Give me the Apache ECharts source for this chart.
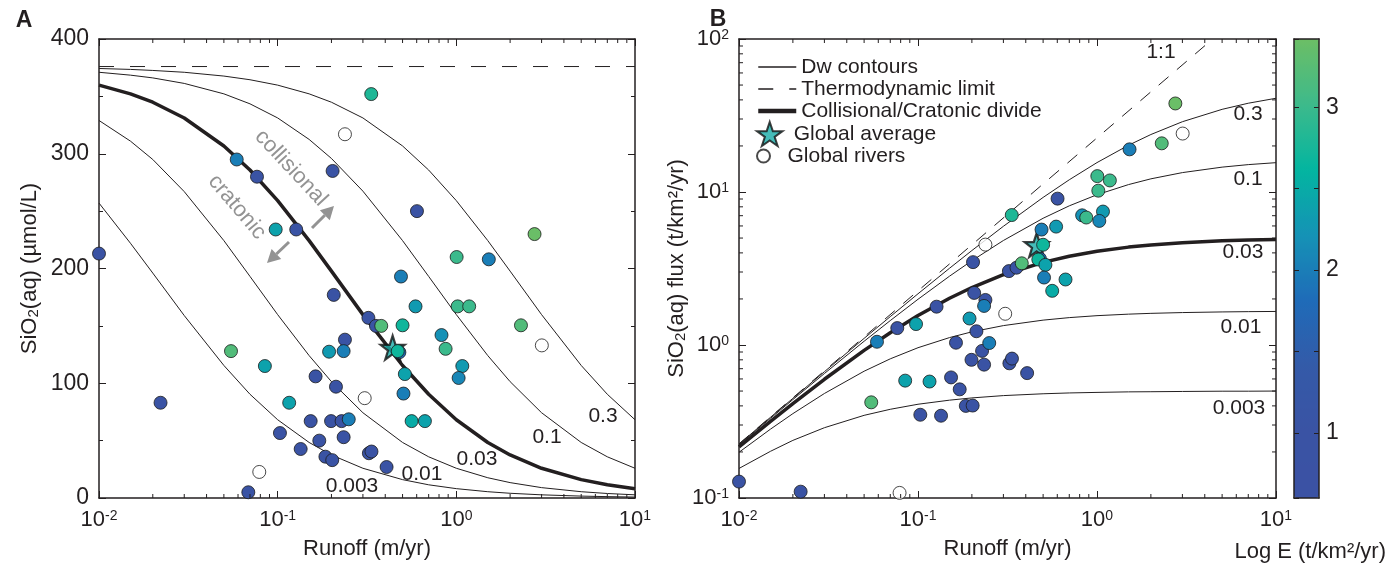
<!DOCTYPE html>
<html>
<head>
<meta charset="utf-8">
<title>Dissolved silica vs runoff</title>
<script src="https://cdn.jsdelivr.net/npm/echarts@6.0.0/dist/echarts.min.js"></script>
<style>
  html, body { margin: 0; padding: 0; background: #fff; }
  #chart { width: 1388px; height: 567px; }
</style>
</head>
<body>
<div id="chart"></div>
<script>
// runoff samples (m/yr) for the Dw model curves
const curveRunoff = [0.01, 0.015, 0.02, 0.03, 0.05, 0.07, 0.1, 0.15, 0.2, 0.3, 0.5, 0.7, 1, 1.5, 2, 3, 5, 7, 10]
// panel A, SiO2 (umol/L) along each Dw contour
const concDw003 = [257, 222, 196, 159, 115.5, 90.4, 68.2, 48.4, 37.5, 25.9, 16.0, 11.5, 8.15, 5.48, 4.12, 2.76, 1.66, 1.19, 0.83]
const concDw01 = [329, 311, 295, 267, 224.3, 193.1, 159.8, 124.1, 101.4, 74.3, 48.4, 35.9, 25.9, 17.65, 13.4, 9.04, 5.48, 3.93, 2.76]
const concDw03 = [359.8, 352.2, 344.9, 331.2, 306.8, 285.8, 259.1, 224.3, 197.7, 159.8, 115.5, 90.4, 68.2, 48.4, 37.5, 25.9, 16.0, 11.5, 8.15]
const concDw1 = [371.0, 368.5, 366.1, 361.3, 352.2, 343.5, 331.2, 312.5, 295.9, 267.4, 224.3, 193.1, 159.8, 124.1, 101.4, 74.3, 48.4, 35.9, 25.9]
const concDw3 = [374.3, 373.5, 372.6, 371.0, 367.7, 364.5, 359.8, 352.2, 344.9, 331.2, 306.8, 285.8, 259.1, 224.3, 197.7, 159.8, 115.5, 90.4, 68.2]
const thermoLimit = 376
// panel B, SiO2 flux (t/km2/yr) along each Dw contour
const fluxDw003 = [0.156, 0.202, 0.238, 0.288, 0.347, 0.380, 0.410, 0.436, 0.451, 0.467, 0.480, 0.486, 0.490, 0.494, 0.495, 0.497, 0.499, 0.499, 0.500]
const fluxDw01 = [0.199, 0.282, 0.356, 0.482, 0.674, 0.812, 0.960, 1.118, 1.219, 1.339, 1.454, 1.510, 1.555, 1.591, 1.610, 1.629, 1.645, 1.652, 1.657]
const fluxDw03 = [0.216, 0.317, 0.414, 0.597, 0.922, 1.202, 1.557, 2.021, 2.375, 2.880, 3.470, 3.804, 4.099, 4.363, 4.509, 4.664, 4.796, 4.855, 4.899]
const fluxDw1 = [0.223, 0.332, 0.440, 0.651, 1.058, 1.444, 1.990, 2.817, 3.556, 4.820, 6.736, 8.120, 9.599, 11.18, 12.19, 13.39, 14.54, 15.10, 15.55]
const fluxDw3 = [0.225, 0.337, 0.448, 0.669, 1.105, 1.533, 2.162, 3.174, 4.144, 5.969, 9.217, 12.02, 15.57, 20.21, 23.75, 28.80, 34.70, 38.04, 40.99]
const oneToOneRunoff = [0.01, 4.43]
const oneToOneFlux = [0.226, 100]

// catchments
const runoff = [0.059, 0.0766, 0.203, 0.0975, 0.127, 0.01, 0.334, 0.602, 2.74, 1.004, 1.52, 0.49, 0.206, 0.238, 0.194, 0.234, 0.0548, 0.0848, 0.163, 0.212, 0.0221, 0.116, 0.153, 0.199, 0.228, 0.25, 0.103, 0.171, 0.234, 0.1345, 0.185, 0.202, 0.0685, 0.591, 1.017, 1.18, 0.322, 0.355, 0.38, 0.50, 2.30, 0.826, 0.871, 0.48, 0.47, 0.515, 0.506, 1.08, 1.03, 0.562, 0.667, 0.324, 0.335, 0.407]
const sio2 = [295, 280, 285, 234, 234, 213, 352, 250, 230, 210, 208, 193, 177, 138, 127.5, 128, 128, 115, 106, 97, 83, 83, 67, 67, 67, 68.6, 56.6, 50, 53, 42.7, 36, 33, 5, 167, 167, 167, 157, 150, 150, 150.5, 150.5, 142, 130, 127, 128, 108, 91, 115, 104.6, 67, 67, 39, 40.5, 27]
const sio2Flux = [1.05, 1.29, 3.48, 1.37, 1.78, 0.128, 7.07, 9.05, 37.9, 12.7, 19.0, 5.68, 2.19, 1.97, 1.49, 1.80, 0.422, 0.585, 1.035, 1.23, 0.110, 0.577, 0.614, 0.80, 0.915, 1.03, 0.350, 0.513, 0.744, 0.345, 0.400, 0.402, 0.0206, 5.94, 10.2, 11.9, 3.04, 3.20, 3.42, 4.52, 20.8, 7.04, 6.81, 3.66, 3.62, 3.34, 2.76, 7.45, 6.47, 2.26, 2.68, 0.759, 0.815, 0.655]
const logE = [2.0, 1.0, 1.0, 2.4, 1.0, 1.0, 2.8, 1.0, 3.4, 3.0, 2.0, 2.0, 1.0, 1.0, 2.3, 2.0, 3.2, 2.4, 1.0, 1.0, 1.0, 2.4, 1.0, 1.0, 1.0, 2.0, 1.0, 1.0, 1.0, 1.0, 1.0, 1.0, 1.0, 2.3, 3.0, 3.0, 1.0, 1.0, 3.2, 2.7, 3.2, 2.2, 3.0, 1.8, 2.7, 2.4, 2.0, 2.3, 2.1, 2.5, 2.4, 1.0, 1.0, 1.0]

// global rivers (open circles) and global average (star)
const riverRunoff = [0.238, 3.01, 0.307, 0.0789]
const riverSio2 = [317, 133, 87, 22.7]
const riverFlux = [4.53, 24.1, 1.60, 0.108]
const avgRunoffA = [0.44]
const avgSio2 = [131]
const avgRunoffB = [0.46]
const avgFlux = [4.5]

// minor tick values on the log axes
const xMinorTicks = [0.02, 0.03, 0.04, 0.05, 0.06, 0.07, 0.08, 0.09, 0.2, 0.3, 0.4, 0.5, 0.6, 0.7, 0.8, 0.9, 2, 3, 4, 5, 6, 7, 8, 9]
const yMinorTicks = [0.2, 0.3, 0.4, 0.5, 0.6, 0.7, 0.8, 0.9, 2, 3, 4, 5, 6, 7, 8, 9, 20, 30, 40, 50, 60, 70, 80, 90]
const dwLabelsA = ['0.003', '0.01', '0.03', '0.1', '0.3']
const dwLabelsB = ['0.003', '0.01', '0.03', '0.1', '0.3']

const FONT = '"Liberation Sans", Arial, Helvetica, sans-serif'
const INK = '#231f20'
const GREY = '#939393'
const colorStops = ['#3b52a4', '#3a53a4', '#345aa8', '#1f6bb8', '#1592b6', '#03b5a0', '#3dba8b', '#6cbe65']

const pairs = (xs, ys) => xs.map((x, i) => [x, ys[i]])
const triples = (xs, ys, cs) => xs.map((x, i) => [x, ys[i], cs[i]])

function powLabel(v) {
  return '10{sup|' + Math.round(Math.log10(v)) + '}'
}

const tickOn = { show: true, inside: true, length: 7, lineStyle: { color: INK, width: 1 } }
const lineOn = { show: true, onZero: false, lineStyle: { color: INK, width: 1.5 } }
const labelOff = { show: false }
const noSplit = { show: false }
const powRich = { sup: { fontFamily: FONT, fontSize: 14, lineHeight: 14, verticalAlign: 'top', color: INK } }
const subRich = { sub: { fontFamily: FONT, fontSize: 15, lineHeight: 8, verticalAlign: 'bottom', color: INK } }

function runoffAxis(grid, bottom) {
  return {
    type: 'log', logBase: 10, min: 0.01, max: 10, gridIndex: grid,
    position: bottom ? 'bottom' : 'top',
    axisLine: lineOn, axisTick: tickOn, splitLine: noSplit,
    axisLabel: bottom
      ? { fontFamily: FONT, fontSize: 22, color: INK, margin: 11, formatter: powLabel, rich: powRich }
      : labelOff,
    name: bottom ? 'Runoff (m/yr)' : '',
    nameLocation: 'middle', nameGap: 40,
    nameTextStyle: { fontFamily: FONT, fontSize: 22, color: INK }
  }
}

function contour(name, x, y, xi, yi, width) {
  return {
    name: name, type: 'line', xAxisIndex: xi, yAxisIndex: yi,
    data: pairs(x, y), symbol: 'none', smooth: false,
    lineStyle: { color: INK, width: width }, itemStyle: { color: INK, opacity: 0 },
    silent: true, z: 1, clip: true, emphasis: { disabled: true }
  }
}

function minorTicks(xi, yi, values, dir, ref) {
  return {
    type: 'custom', xAxisIndex: xi, yAxisIndex: yi, silent: true, clip: false, z: 6,
    data: values.map(v => (dir === 'x' ? [v, ref] : [ref, v])),
    renderItem: (params, api) => {
      const cs = params.coordSys
      const p = api.coord([api.value(0), api.value(1)])
      const st = { stroke: INK, lineWidth: 1 }
      if (dir === 'x') {
        return { type: 'group', children: [
          { type: 'line', shape: { x1: p[0], y1: cs.y + cs.height, x2: p[0], y2: cs.y + cs.height - 4 }, style: st },
          { type: 'line', shape: { x1: p[0], y1: cs.y, x2: p[0], y2: cs.y + 4 }, style: st }
        ] }
      }
      return { type: 'group', children: [
        { type: 'line', shape: { x1: cs.x, y1: p[1], x2: cs.x + 4, y2: p[1] }, style: st },
        { type: 'line', shape: { x1: cs.x + cs.width, y1: p[1], x2: cs.x + cs.width - 4, y2: p[1] }, style: st }
      ] }
    }
  }
}

const STAR = 'path://M12,0 L14.9,8.6 L24,8.6 L16.6,14 L19.4,22.6 L12,17.3 L4.6,22.6 L7.4,14 L0,8.6 L9.1,8.6 Z'
const pointStyle = { borderColor: '#1c1c1c', borderWidth: 0.8, opacity: 1 }

const series = []
// panel A
series.push(contour('Dw contours', curveRunoff, concDw003, 0, 0, 1))
series.push(contour('Dw contours', curveRunoff, concDw01, 0, 0, 1))
series.push(contour('Collisional/Cratonic divide', curveRunoff, concDw03, 0, 0, 3.5))
series.push(contour('Dw contours', curveRunoff, concDw1, 0, 0, 1))
series.push(contour('Dw contours', curveRunoff, concDw3, 0, 0, 1))
const limitA = contour('Thermodynamic limit', [0.01, 10], [thermoLimit, thermoLimit], 0, 0, 1)
limitA.lineStyle.type = [15, 16]
series.push(limitA)
series.push({ name: 'Global average', type: 'scatter', xAxisIndex: 0, yAxisIndex: 0,
  data: pairs(avgRunoffA, avgSio2), symbol: STAR, symbolSize: 24, z: 2,
  itemStyle: { color: '#17aba7', borderColor: '#111', borderWidth: 2.2 } })
const idxPtsA = series.length
series.push({ name: 'Catchments', type: 'scatter', xAxisIndex: 0, yAxisIndex: 0,
  data: triples(runoff, sio2, logE), symbolSize: 13, itemStyle: pointStyle, z: 3, clip: true })
series.push({ name: 'Global rivers', type: 'scatter', xAxisIndex: 0, yAxisIndex: 0,
  data: pairs(riverRunoff, riverSio2), symbolSize: 13, z: 3,
  itemStyle: { color: '#fff', borderColor: '#1c1c1c', borderWidth: 1 } })
// panel B
series.push(contour('Dw contours', curveRunoff, fluxDw003, 2, 2, 1))
series.push(contour('Dw contours', curveRunoff, fluxDw01, 2, 2, 1))
series.push(contour('Collisional/Cratonic divide', curveRunoff, fluxDw03, 2, 2, 3.5))
series.push(contour('Dw contours', curveRunoff, fluxDw1, 2, 2, 1))
series.push(contour('Dw contours', curveRunoff, fluxDw3, 2, 2, 1))
const limitB = contour('Thermodynamic limit', oneToOneRunoff, oneToOneFlux, 2, 2, 1)
limitB.lineStyle.type = [13, 11]
series.push(limitB)
series.push({ name: 'Global average', type: 'scatter', xAxisIndex: 2, yAxisIndex: 2,
  data: pairs(avgRunoffB, avgFlux), symbol: STAR, symbolSize: 24, z: 2,
  itemStyle: { color: '#17aba7', borderColor: '#111', borderWidth: 2.2 } })
const idxPtsB = series.length
series.push({ name: 'Catchments', type: 'scatter', xAxisIndex: 2, yAxisIndex: 2,
  data: triples(runoff, sio2Flux, logE), symbolSize: 13, itemStyle: pointStyle, z: 3, clip: true })
series.push({ name: 'Global rivers', type: 'scatter', xAxisIndex: 2, yAxisIndex: 2,
  data: pairs(riverRunoff, riverFlux), symbolSize: 13, z: 3, clip: true,
  itemStyle: { color: '#fff', borderColor: '#1c1c1c', borderWidth: 1 } })
// minor ticks
series.push(minorTicks(0, 0, xMinorTicks, 'x', 200))
series.push(minorTicks(2, 2, xMinorTicks, 'x', 1))
series.push(minorTicks(2, 2, yMinorTicks, 'y', 1))

function txt(x, y, text, size, extra) {
  return { type: 'text', x: x, y: y, silent: true, z: 20,
    style: Object.assign({ text: text, fontFamily: FONT, fontSize: size, fill: INK,
      align: 'center', verticalAlign: 'middle' }, extra || {}) }
}

function arrow(x1, y1, x2, y2) {
  const len = Math.hypot(x2 - x1, y2 - y1)
  const dx = (x2 - x1) / len, dy = (y2 - y1) / len
  const bx = x2 - 13 * dx, by = y2 - 13 * dy
  return [
    { type: 'line', silent: true, z: 20, shape: { x1: x1, y1: y1, x2: bx, y2: by }, style: { stroke: GREY, lineWidth: 3 } },
    { type: 'polygon', silent: true, z: 20, shape: { points: [[x2, y2], [bx - 7 * dy, by + 7 * dx], [bx + 7 * dy, by - 7 * dx]] }, style: { fill: GREY } }
  ]
}

const labelPosA = [[352, 486], [422, 474], [477, 459], [547, 437], [603, 416]]
const labelPosB = [[1239, 408], [1241, 327], [1243, 252], [1248, 179], [1248, 114]]
const graphics = [
  txt(24, 21, 'A', 23, { fontWeight: 'bold' }),
  txt(718, 20, 'B', 23, { fontWeight: 'bold' }),
  txt(1386, 552, 'Log E (t/km²/yr)', 22, { align: 'right' }),
  txt(1161, 52, '1:1', 21),
  Object.assign(txt(291, 168, 'collisional', 22, { fill: GREY }), { rotation: -0.82 }),
  Object.assign(txt(237, 207, 'cratonic', 22, { fill: GREY }), { rotation: -0.87 })
]
  .concat(dwLabelsA.map((t, i) => txt(labelPosA[i][0], labelPosA[i][1], t, 21)))
  .concat(dwLabelsB.map((t, i) => txt(labelPosB[i][0], labelPosB[i][1], t, 21)))
  .concat(arrow(312, 228, 334, 206))
  .concat(arrow(289, 242, 267, 263))

const legendText = { fontFamily: FONT, fontSize: 21, color: INK, lineHeight: 22 }
const legendBase = { orient: 'vertical', left: 756, itemWidth: 38, itemGap: 0, padding: 0,
  selectedMode: false, textStyle: legendText }

const option = {
  animation: false,
  backgroundColor: '#fff',
  grid: [
    { left: 99, top: 39, width: 536, height: 459 },
    { left: 739, top: 39, width: 537, height: 459 },
    { left: 1294, top: 39, width: 25, height: 459 }
  ],
  xAxis: [
    runoffAxis(0, true),
    runoffAxis(0, false),
    runoffAxis(1, true),
    runoffAxis(1, false),
    { type: 'value', gridIndex: 2, min: 0, max: 1, position: 'bottom', axisLine: lineOn, axisTick: { show: false }, axisLabel: labelOff, splitLine: noSplit, z: 10 },
    { type: 'value', gridIndex: 2, min: 0, max: 1, position: 'top', axisLine: lineOn, axisTick: { show: false }, axisLabel: labelOff, splitLine: noSplit, z: 10 }
  ],
  yAxis: [
    { type: 'value', gridIndex: 0, min: 0, max: 400, interval: 100, position: 'left',
      axisLine: lineOn, axisTick: tickOn, splitLine: noSplit,
      minorTick: { show: true, splitNumber: 2, length: 4, lineStyle: { color: INK, width: 1 } },
      axisLabel: { fontFamily: FONT, fontSize: 23, color: INK, margin: 10 },
      name: 'SiO{sub|2}(aq) (µmol/L)', nameLocation: 'middle', nameGap: 58,
      nameTextStyle: { fontFamily: FONT, fontSize: 22, color: INK, lineHeight: 22, rich: subRich } },
    { type: 'value', gridIndex: 0, min: 0, max: 400, interval: 100, position: 'right',
      axisLine: lineOn, axisTick: tickOn, splitLine: noSplit, axisLabel: labelOff,
      minorTick: { show: true, splitNumber: 2, length: 4, lineStyle: { color: INK, width: 1 } } },
    { type: 'log', logBase: 10, gridIndex: 1, min: 0.1, max: 100, position: 'left',
      axisLine: lineOn, axisTick: tickOn, splitLine: noSplit,
      axisLabel: { fontFamily: FONT, fontSize: 22, color: INK, margin: 10, formatter: powLabel, rich: powRich },
      name: 'SiO{sub|2}(aq) flux (t/km²/yr)', nameLocation: 'middle', nameGap: 48,
      nameTextStyle: { fontFamily: FONT, fontSize: 22, color: INK, lineHeight: 22, rich: subRich } },
    { type: 'log', logBase: 10, gridIndex: 1, min: 0.1, max: 100, position: 'right',
      axisLine: lineOn, axisTick: tickOn, splitLine: noSplit, axisLabel: labelOff },
    { type: 'value', gridIndex: 2, min: 0.6, max: 3.42, position: 'left', z: 10,
      axisLine: lineOn, axisTick: { show: true, inside: true, length: 5, lineStyle: { color: INK } },
      axisLabel: labelOff, splitLine: noSplit },
    { type: 'value', gridIndex: 2, min: 0.6, max: 3.42, position: 'right', z: 10,
      axisLine: lineOn, axisTick: { show: true, inside: true, length: 5, lineStyle: { color: INK } },
      splitLine: noSplit,
      axisLabel: { fontFamily: FONT, fontSize: 23, color: INK, margin: 7, showMinLabel: false, showMaxLabel: false,
        formatter: v => (Math.abs(v - Math.round(v)) < 1e-6 ? String(Math.round(v)) : '') } }
  ],
  visualMap: {
    type: 'continuous', min: 0.6, max: 3.42, dimension: 2, seriesIndex: [idxPtsA, idxPtsB],
    inRange: { color: colorStops },
    left: 1294, top: 39, itemWidth: 25, itemHeight: 459, padding: 0,
    calculable: false, hoverLink: false, text: null
  },
  legend: [
    Object.assign({ top: 56, itemHeight: 14, data: [
      { name: 'Dw contours', lineStyle: { width: 1.4, color: INK, opacity: 1 } },
      { name: 'Thermodynamic limit', lineStyle: { width: 1.4, color: INK, opacity: 1 } },
      { name: 'Collisional/Cratonic divide', lineStyle: { width: 4.5, color: INK, opacity: 1 } }
    ] }, legendBase),
    Object.assign({ top: 121, itemHeight: 24, data: ['Global average'] }, legendBase),
    Object.assign({ top: 145, itemHeight: 13, data: ['Global rivers'] }, legendBase)
  ],
  graphic: graphics,
  series: series
}

const chart = echarts.init(document.getElementById('chart'))
chart.setOption(option)
</script>
</body>
</html>
